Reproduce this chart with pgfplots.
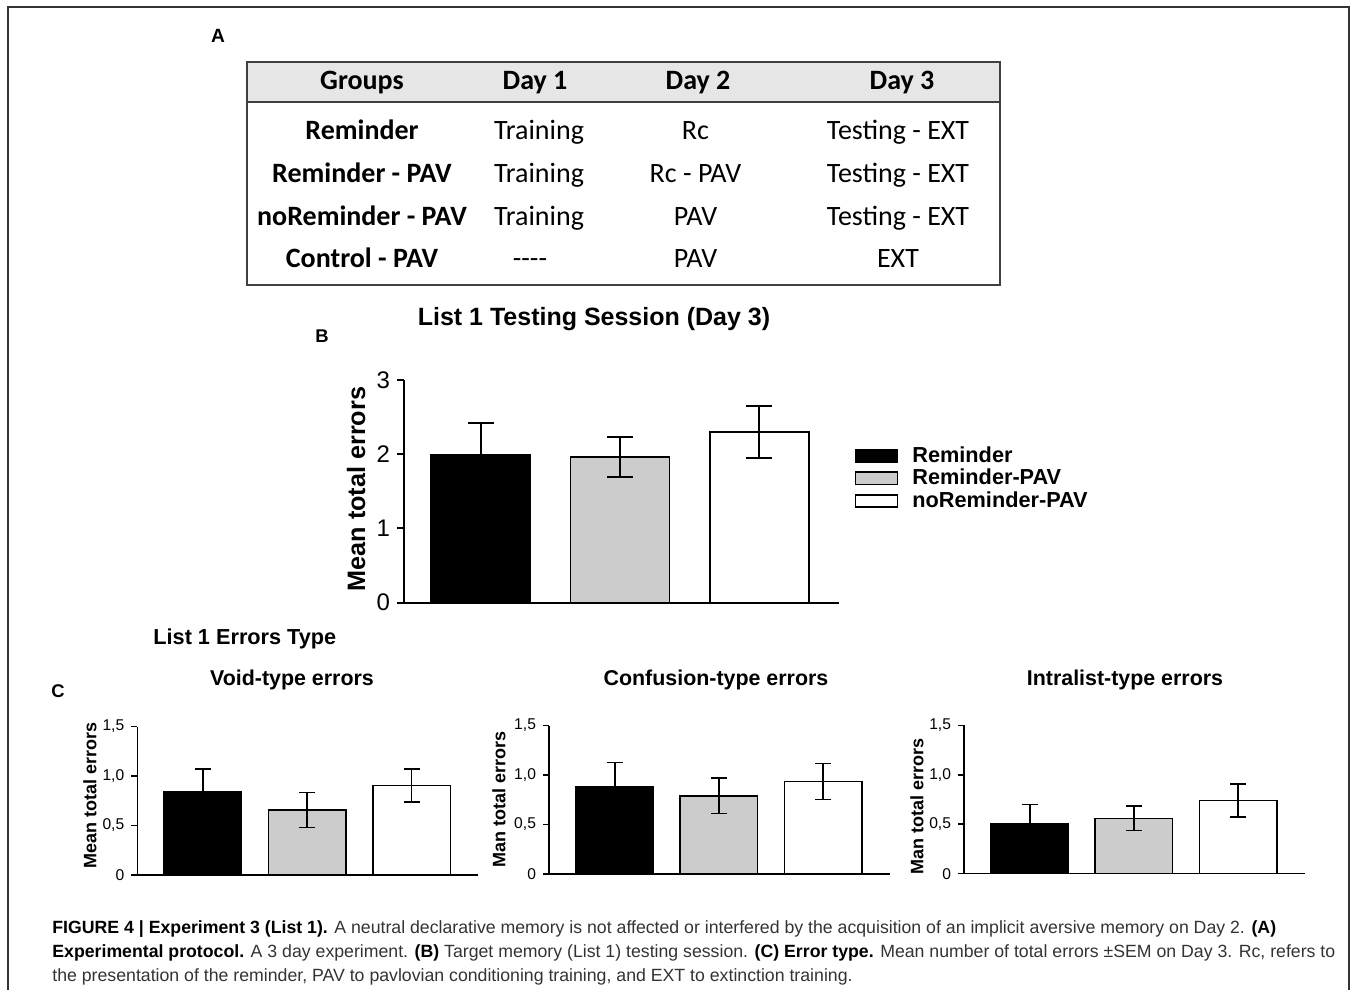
\documentclass[border=0pt]{standalone}
\usepackage{fontspec}
\setmainfont{Liberation Sans}
\newfontfamily\calibri{Carlito}
\usepackage{pgfplots}
\pgfplotsset{compat=1.18}

\definecolor{bargray}{HTML}{CCCCCC}
\definecolor{hdrgray}{HTML}{E6E6E6}
\definecolor{capgray}{HTML}{333333}

\pgfplotsset{
  bars/.style={
    scale only axis, anchor=south west, clip=false,
    axis x line*=bottom, axis y line*=left,
    axis line style={-, line width=1pt},
    xtick=\empty, tick align=outside,
    major tick length=3.5pt, tick style={black, line width=1pt},
  },
  panelC/.style={
    bars, width=170.5pt, height=74.2pt,
    xmin=0.37, xmax=3.64, ymin=0, ymax=1.5,
    ytick={0,0.5,1,1.5}, yticklabels={0,{0,5},{1,0},{1,5}},
    axis line style={line width=0.75pt},
    tick style={line width=0.75pt}, major tick length=3pt,
    yticklabel style={font=\fontsize{7.8}{9}\selectfont},
  },
  bar/.style={ybar, bar shift=0pt, bar width=#1, draw=black, line width=0.9pt,
    error bars/y dir=both, error bars/y explicit,
    error bars/error bar style={black, line width=0.9pt}},
  capC/.style={error bars/error mark options={rotate=90, black, line width=0.75pt, mark size=4pt}},
  capB/.style={error bars/error mark options={rotate=90, black, line width=1pt, mark size=6.5pt}},
}

\begin{document}
\begin{tikzpicture}
\begin{scope}[x=0.5pt,y=-0.5pt]
\path[use as bounding box] (0,0) rectangle (1357,990);
\draw[line width=0.75pt, black!80] (8,995) -- (8,7) -- (1349,7) -- (1349,995);

% panel A: protocol table
\node[font=\bfseries\fontsize{9.6}{12}\selectfont] at (218,36) {A};
\fill[hdrgray] (247,62) rectangle (1000,102);
\draw[line width=0.75pt, black!75] (247,62) rectangle (1000,285);
\draw[line width=0.75pt, black!75] (247,102) -- (1000,102);
\begin{scope}[every node/.style={anchor=base, font=\calibri\fontsize{14}{16}\selectfont}]
\node[font=\calibri\bfseries\fontsize{14}{16}\selectfont] at (362,90) {Groups};
\node[font=\calibri\bfseries\fontsize{14}{16}\selectfont] at (535,90) {Day 1};
\node[font=\calibri\bfseries\fontsize{14}{16}\selectfont] at (698,90) {Day 2};
\node[font=\calibri\bfseries\fontsize{14}{16}\selectfont] at (902,90) {Day 3};
\node[font=\calibri\bfseries\fontsize{14}{16}\selectfont] at (362,139.5) {Reminder};
\node[font=\calibri\bfseries\fontsize{14}{16}\selectfont] at (362,182.5) {Reminder - PAV};
\node[font=\calibri\bfseries\fontsize{14}{16}\selectfont] at (362,225.5) {noReminder - PAV};
\node[font=\calibri\bfseries\fontsize{14}{16}\selectfont] at (362,268) {Control - PAV};
\node at (539,139.5) {Training};
\node at (539,182.5) {Training};
\node at (539,225.5) {Training};
\node at (530,268) {----};
\node at (695.5,139.5) {Rc};
\node at (695.5,182.5) {Rc - PAV};
\node at (695.5,225.5) {PAV};
\node at (695.5,268) {PAV};
\node at (898,139.5) {Testing - EXT};
\node at (898,182.5) {Testing - EXT};
\node at (898,225.5) {Testing - EXT};
\node at (898,268) {EXT};
\end{scope}

% titles and labels
\node[anchor=base, font=\bfseries\fontsize{12.5}{14}\selectfont] at (594,326) {List 1 Testing Session (Day 3)};
\node[font=\bfseries\fontsize{9.2}{11}\selectfont] at (322,336) {B};
\node[rotate=90, font=\bfseries\fontsize{12.6}{14}\selectfont] at (356,489) {Mean total errors};
\node[anchor=base west, inner sep=0pt, font=\bfseries\fontsize{10.85}{13}\selectfont] at (153,644) {List 1 Errors Type};
\node[font=\bfseries\fontsize{9.2}{11}\selectfont] at (58,691) {C};
\node[anchor=base, font=\bfseries\fontsize{10.7}{13}\selectfont] at (292,685) {Void-type errors};
\node[anchor=base, font=\bfseries\fontsize{10.7}{13}\selectfont] at (716,685) {Confusion-type errors};
\node[anchor=base, font=\bfseries\fontsize{10.7}{13}\selectfont] at (1125,685) {Intralist-type errors};
\node[rotate=90, font=\bfseries\fontsize{9}{11}\selectfont] at (90,795) {Mean total errors};
\node[rotate=90, font=\bfseries\fontsize{9}{11}\selectfont] at (499,799) {Man total errors};
\node[rotate=90, font=\bfseries\fontsize{9}{11}\selectfont] at (917,806) {Man total errors};

% caption
\begin{scope}[every node/.style={anchor=base west, inner sep=0pt, text=capgray, font=\fontsize{8.85}{10}\selectfont}]
\node at (52,933) {\textbf{\color{black}FIGURE 4 | Experiment 3 (List 1).} A neutral declarative memory is not affected or interfered by the acquisition of an implicit aversive memory on Day 2. \textbf{\color{black}(A)}};
\node at (52,957) {\textbf{\color{black}Experimental protocol.} A 3 day experiment. \textbf{\color{black}(B)} Target memory (List 1) testing session. \textbf{\color{black}(C) Error type.} Mean number of total errors ±SEM on Day 3. Rc, refers to};
\node at (52,981) {the presentation of the reminder, PAV to pavlovian conditioning training, and EXT to extinction training.};
\end{scope}
\end{scope}

% panel B
\begin{axis}[bars, at={(202pt,-301.25pt)}, width=217.5pt, height=111.25pt,
  xmin=0.4485, xmax=3.572, ymin=0, ymax=3,
  ytick={0,1,2,3}, yticklabels={0,1,2,3},
  yticklabel style={font=\fontsize{12}{14}\selectfont},
  legend style={at={(1.035,0.72)}, anchor=north west, draw=none, fill=none,
    font=\bfseries\fontsize{10.85}{12}\selectfont, row sep=-2.1pt,
    inner sep=0pt, cells={anchor=west}},
  legend image code/.code={\draw[#1, line width=0.9pt] (0pt,-3pt) rectangle (21pt,3.2pt); \path (26pt,0pt);},
]
\addplot[bar=49.5pt, fill=black, capB] coordinates {(1,1.99) +- (0,0.43)};
\addlegendentry{Reminder}
\addplot[bar=49.5pt, fill=bargray, capB] coordinates {(2,1.96) +- (0,0.27)};
\addlegendentry{Reminder-PAV}
\addplot[bar=49.5pt, fill=white, capB] coordinates {(3,2.30) +- (0,0.355)};
\addlegendentry{noReminder-PAV}
\end{axis}

% panel C, void-type
\begin{axis}[panelC, at={(68.65pt,-437.5pt)}]
\addplot[bar=38.75pt, fill=black, capC, line width=0.75pt] coordinates {(1,0.84) +- (0,0.23)};
\addplot[bar=38.75pt, fill=bargray, capC, line width=0.75pt] coordinates {(2,0.655) +- (0,0.177)};
\addplot[bar=38.75pt, fill=white, capC, line width=0.75pt] coordinates {(3,0.905) +- (0,0.167)};
\end{axis}

% panel C, confusion-type
\begin{axis}[panelC, at={(274.5pt,-437pt)}]
\addplot[bar=38.75pt, fill=black, capC, line width=0.75pt] coordinates {(1,0.88) +- (0,0.245)};
\addplot[bar=38.75pt, fill=bargray, capC, line width=0.75pt] coordinates {(2,0.79) +- (0,0.18)};
\addplot[bar=38.75pt, fill=white, capC, line width=0.75pt] coordinates {(3,0.935) +- (0,0.18)};
\end{axis}

% panel C, intralist-type
\begin{axis}[panelC, at={(482pt,-436.85pt)}]
\addplot[bar=38.75pt, fill=black, capC, line width=0.75pt] coordinates {(1,0.505) +- (0,0.195)};
\addplot[bar=38.75pt, fill=bargray, capC, line width=0.75pt] coordinates {(2,0.56) +- (0,0.125)};
\addplot[bar=38.75pt, fill=white, capC, line width=0.75pt] coordinates {(3,0.74) +- (0,0.165)};
\end{axis}
\end{tikzpicture}
\end{document}
